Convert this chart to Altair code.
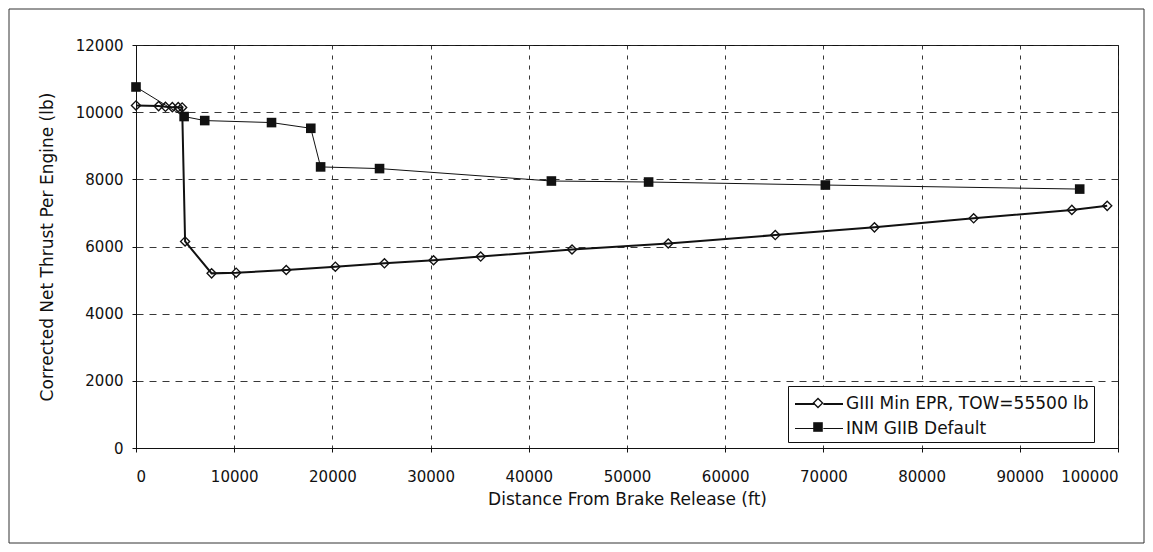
import altair as alt
import pandas as pd

# Series A: GIII Min EPR, TOW=55500 lb (open diamonds)
a_name = "GIII Min EPR, TOW=55500 lb"
a_x = [0, 2300, 3000, 3700, 4300, 4700, 5000, 7700, 10200, 15300, 20300, 25300,
       30300, 35100, 44400, 54200, 65100, 75200, 85300, 95300, 98900]
a_y = [10200, 10180, 10160, 10150, 10150, 10140, 6150, 5200, 5220, 5300, 5400, 5500,
       5590, 5700, 5910, 6090, 6340, 6570, 6840, 7090, 7210]

# Series B: INM GIIB Default (filled squares)
b_name = "INM GIIB Default"
b_x = [0, 4900, 7000, 13800, 17800, 18800, 24800, 42300, 52200, 70200, 96100]
b_y = [10750, 9870, 9750, 9690, 9520, 8370, 8320, 7950, 7920, 7830, 7710]

x_ticks = [0, 10000, 20000, 30000, 40000, 50000, 60000, 70000, 80000, 90000, 100000]
y_ticks = [0, 2000, 4000, 6000, 8000, 10000, 12000]

names = [a_name, b_name]
markers = ["open diamond", "filled square"]
df = pd.DataFrame(
    {"x": a_x + b_x, "y": a_y + b_y,
     "series": [a_name] * len(a_x) + [b_name] * len(b_x),
     "marker": [markers[0]] * len(a_x) + [markers[1]] * len(b_x),
     "order": list(range(len(a_x))) + list(range(len(b_x)))}
)

FONT = "DejaVu Sans"
LEG_X, LEG_Y = 652, 341
SYM = 576  # custom paths are scaled by sqrt(SYM)/2 = 12 px per unit

common_leg = dict(
    title=None, orient="none", legendX=LEG_X, legendY=LEG_Y, padding=5,
    labelFont=FONT, labelFontSize=17, labelLimit=600, rowPadding=4,
    symbolSize=SYM, symbolOffset=13,
)

xenc = alt.X("x:Q", scale=alt.Scale(domain=[0, 100000], nice=False),
             axis=alt.Axis(values=x_ticks, title="Distance From Brake Release (ft)",
                           format="d", grid=True, gridDash=[4, 6], labelPadding=17,
                           titlePadding=7))
yenc = alt.Y("y:Q", scale=alt.Scale(domain=[0, 12000], nice=False),
             axis=alt.Axis(values=y_ticks, title="Corrected Net Thrust Per Engine (lb)",
                           format="d", grid=True, gridDash=[7, 6], labelPadding=9,
                           titlePadding=19))

base = alt.Chart(df)

# 48 px legend line with a small gap where the marker sits
line_sample = "M-2,0L-0.36,0M0.36,0L2,0"

lines = base.mark_line(color="#111").encode(
    x=xenc, y=yenc, detail="series:N", order="order:Q",
    strokeWidth=alt.StrokeWidth(
        "series:N", scale=alt.Scale(domain=names, range=[2, 1]),
        legend=alt.Legend(fillColor="white", strokeColor="#111", symbolType=line_sample,
                          symbolStrokeColor="#111", labelColor="#111", labelOffset=14,
                          zindex=1, **common_leg)),
)

# marker shapes drawn by fill only: a diamond ring and a solid square
diamond_path = "M0,-0.46L0.46,0L0,0.46L-0.46,0ZM0,-0.3L-0.3,0L0,0.3L0.3,0Z"
square_path = "M-0.4,-0.4L0.4,-0.4L0.4,0.4L-0.4,0.4Z"

marker_leg = alt.Legend(fillColor="transparent", strokeColor="transparent",
                        symbolFillColor="#111", symbolStrokeColor="transparent",
                        symbolStrokeWidth=0, symbolOpacity=1,
                        labelExpr="' '", labelOffset=300, zindex=2, **common_leg)

points = base.mark_point(fill="#111", filled=True, strokeWidth=0, opacity=1,
                         size=SYM).encode(
    x="x:Q", y="y:Q",
    shape=alt.Shape("marker:N",
                    scale=alt.Scale(domain=markers, range=[diamond_path, square_path]),
                    legend=marker_leg),
)

frame = alt.Chart(pd.DataFrame({"k": [0]})).mark_rect(
    fill="transparent", stroke="#333", strokeWidth=1).encode(
    x=alt.value(-127), x2=alt.value(1008), y=alt.value(-36), y2=alt.value(498))

chart = alt.layer(frame, lines, points).properties(
    width=982, height=403,
    padding={"left": 128, "top": 37, "right": 27, "bottom": 96},
    autosize=alt.AutoSizeParams(type="none"),
    background="white",
).configure_view(
    stroke="#111", strokeWidth=1
).configure_axis(
    labelFont=FONT, titleFont=FONT, labelFontSize=15, titleFontSize=17,
    titleFontWeight="normal", labelColor="#111", titleColor="#111",
    domainColor="#111", tickColor="#111", tickSize=4, gridColor="#222",
    gridOpacity=0.9, gridWidth=1,
).configure_legend(
    cornerRadius=0,
)

chart.save("out.html", embed_options={"renderer": "svg", "actions": False})
